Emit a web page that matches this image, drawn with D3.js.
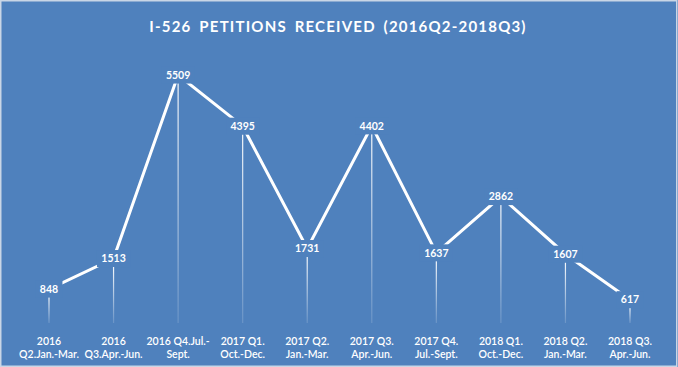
<!DOCTYPE html>
<html>
<head>
<meta charset="utf-8">
<script src="https://cdn.jsdelivr.net/npm/d3@7"></script>
<style>
  html, body { margin: 0; padding: 0; background: #fff; }
  #cntr { width: 678px; height: 367px; }
  text { font-family: Lato, "Open Sans", sans-serif; }
</style>
</head>
<body>
<div id="cntr"></div>
<script>
const width = 678, height = 367;
const BG = "#4f81bd";

const quarters = ["2016Q2", "2016Q3", "2016Q4", "2017Q1", "2017Q2", "2017Q3", "2017Q4", "2018Q1", "2018Q2", "2018Q3"];
const petitions = [848, 1513, 5509, 4395, 1731, 4402, 1637, 2862, 1607, 617];
const tickLines = [
    ["2016", "Q2.Jan.-Mar."],
    ["2016", "Q3.Apr.-Jun."],
    ["2016 Q4.Jul.-", "Sept."],
    ["2017 Q1.", "Oct.-Dec."],
    ["2017 Q2.", "Jan.-Mar."],
    ["2017 Q3.", "Apr.-Jun."],
    ["2017 Q4.", "Jul.-Sept."],
    ["2018 Q1.", "Oct.-Dec."],
    ["2018 Q2.", "Jan.-Mar."],
    ["2018 Q3.", "Apr.-Jun."]
];
const title = "I-526 PETITIONS RECEIVED (2016Q2-2018Q3)";

const data = quarters.map((q, i) => ({ q, v: petitions[i], ticks: tickLines[i] }));

const svg = d3.select("#cntr")
    .append("svg")
    .attr("width", width)
    .attr("height", height);

// background + thin light frame
svg.append("rect")
    .attr("x", 0).attr("y", 0)
    .attr("width", width).attr("height", height)
    .attr("fill", BG);
svg.append("rect")
    .attr("x", 0.75).attr("y", 0.75)
    .attr("width", width - 2).attr("height", height - 1.5)
    .attr("fill", "none")
    .attr("stroke", "#c9d6e6")
    .attr("stroke-width", 1.5);

const x = d3.scalePoint()
    .domain(quarters)
    .range([49, 630]);

const y = d3.scaleLinear()
    .domain([0, 6000])
    .range([328, 52.5]);

// fading drop lines
const grad = svg.append("defs").append("linearGradient")
    .attr("id", "fade")
    .attr("x1", 0).attr("x2", 0).attr("y1", 0).attr("y2", 1);
grad.append("stop").attr("offset", "0%").attr("stop-color", "#fff").attr("stop-opacity", 0.95);
grad.append("stop").attr("offset", "100%").attr("stop-color", "#fff").attr("stop-opacity", 0.15);

svg.append("g")
    .selectAll("rect")
    .data(data)
    .join("rect")
        .attr("x", d => x(d.q) - 0.6)
        .attr("y", d => y(d.v) + 8)
        .attr("width", 1.2)
        .attr("height", d => y(0) - 5 - (y(d.v) + 8))
        .attr("fill", "url(#fade)");

// main line
const line = d3.line()
    .x(d => x(d.q))
    .y(d => y(d.v));

svg.append("path")
    .datum(data)
    .attr("d", line)
    .attr("fill", "none")
    .attr("stroke", "#fff")
    .attr("stroke-width", 3);

// data labels with a background patch that hides the line
const labels = svg.append("g")
    .selectAll("g")
    .data(data)
    .join("g")
        .attr("transform", d => "translate(" + x(d.q) + "," + y(d.v) + ")");

labels.append("rect")
    .attr("x", d => -(String(d.v).length * 6.3 + 8) / 2)
    .attr("y", -8.5)
    .attr("width", d => String(d.v).length * 6.3 + 8)
    .attr("height", 17)
    .attr("fill", BG);

labels.append("text")
    .attr("text-anchor", "middle")
    .attr("dy", "0.36em")
    .style("fill", "#fff")
    .style("font-weight", "bold")
    .style("font-size", "10.5px")
    .text(d => d.v);

// category labels
const cats = svg.append("g")
    .selectAll("text")
    .data(data)
    .join("text")
        .attr("x", d => x(d.q))
        .attr("y", 345)
        .attr("text-anchor", "middle")
        .style("fill", "#fff")
        .style("font-size", "10.5px")
        .style("font-weight", "600");

cats.selectAll("tspan")
    .data(d => d.ticks.map(t => ({ t, cx: x(d.q) })))
    .join("tspan")
        .attr("x", t => t.cx)
        .attr("dy", (t, i) => i === 0 ? 0 : 13)
        .text(t => t.t);

// title
svg.append("text")
    .attr("x", 338)
    .attr("y", 32)
    .attr("text-anchor", "middle")
    .style("fill", "#fff")
    .style("font-weight", "bold")
    .style("font-size", "15px")
    .style("letter-spacing", "1.2px")
    .style("word-spacing", "3px")
    .text(title);
</script>
</body>
</html>
